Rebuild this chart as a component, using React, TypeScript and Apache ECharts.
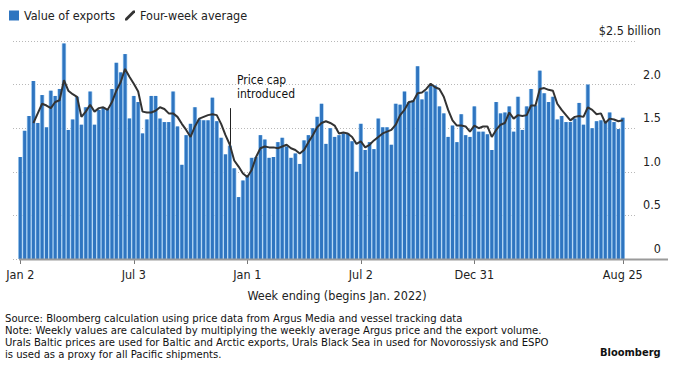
import React, { useEffect, useRef } from "react";
import * as echarts from "echarts";

const FONT = '"Liberation Sans Narrow","Arial Narrow","DejaVu Sans Condensed",sans-serif';

// Weekly value of exports ($ billion), week 0 = Jan 2, 2022
const barValues = [
  1.17, 1.47, 1.64, 2.04, 1.56, 1.88, 1.51, 1.93, 1.87, 1.95,
  2.47, 1.48, 1.60, 1.86, 1.54, 1.74, 1.92, 1.54, 1.71, 1.74,
  1.72, 1.95, 2.25, 2.14, 2.35, 1.61, 1.87, 1.80, 1.44, 1.60,
  1.87, 1.87, 1.61, 1.57, 1.57, 1.92, 1.52, 1.08, 1.42, 1.55,
  1.74, 1.60, 1.59, 1.59, 1.85, 1.58, 1.39, 1.20, 1.30, 1.04,
  0.71, 0.90, 0.96, 1.16, 1.17, 1.42, 1.37, 1.16, 1.17, 1.34,
  1.39, 1.29, 1.16, 1.21, 1.09, 1.36, 1.42, 1.50, 1.63, 1.78,
  1.32, 1.50, 1.40, 1.42, 1.44, 1.44, 1.35, 1.00, 1.55, 1.25,
  1.34, 1.26, 1.61, 1.51, 1.51, 1.31, 1.78, 1.77, 1.92, 1.80,
  1.82, 2.21, 1.83, 1.92, 2.00, 1.99, 1.75, 1.67, 1.40, 1.53,
  1.34, 1.66, 1.42, 1.40, 1.75, 1.46, 1.46, 1.43, 1.25, 1.80,
  1.67, 1.68, 1.75, 1.46, 1.86, 1.48, 1.75, 1.95, 1.76, 2.16,
  1.90, 1.80, 1.86, 1.60, 1.64, 1.57, 1.57, 1.61, 1.79, 1.54,
  2.00, 1.50, 1.58, 1.59, 1.58, 1.68, 1.57, 1.49, 1.62,
];

// Four-week average, starting at week 3
const avgStartWeek = 3;
const avgValues = [
  1.56, 1.67, 1.78, 1.76, 1.73, 1.80, 1.82, 2.05, 1.93, 1.89,
  1.86, 1.63, 1.69, 1.77, 1.69, 1.73, 1.74, 1.71, 1.80, 1.93,
  2.03, 2.18, 2.09, 2.01, 1.92, 1.69, 1.68, 1.68, 1.70, 1.74,
  1.72, 1.67, 1.67, 1.63, 1.55, 1.48, 1.40, 1.52, 1.61, 1.63,
  1.65, 1.66, 1.65, 1.55, 1.42, 1.31, 1.13, 1.06, 0.98, 0.94,
  1.02, 1.17, 1.27, 1.29, 1.28, 1.28, 1.27, 1.29, 1.31, 1.27,
  1.25, 1.21, 1.25, 1.34, 1.42, 1.51, 1.56, 1.58, 1.56, 1.53,
  1.44, 1.45, 1.44, 1.40, 1.32, 1.35, 1.28, 1.31, 1.36, 1.40,
  1.44, 1.46, 1.48, 1.54, 1.65, 1.71, 1.80, 1.81, 1.90, 1.91,
  1.95, 2.01, 1.97, 1.95, 1.86, 1.71, 1.59, 1.53, 1.53, 1.52,
  1.46, 1.53, 1.50, 1.52, 1.52, 1.40, 1.48, 1.54, 1.56, 1.68,
  1.61, 1.65, 1.64, 1.65, 1.76, 1.76, 1.95, 1.96, 1.94, 1.93,
  1.78, 1.71, 1.65, 1.59, 1.63, 1.64, 1.63, 1.74, 1.71, 1.66,
  1.67, 1.56, 1.61, 1.60, 1.58, 1.59,
];

const tickWeeks = [0, 26, 52, 78, 104, 138];
const tickLabels = ["Jan 2", "Jul 3", "Jan 1", "Jul 2", "Dec 31", "Aug 25"];

const priceCapWeek = 48;
const priceCapLineTop = 1.73;

const noteLines = [
  "Source: Bloomberg calculation using price data from Argus Media and vessel tracking data",
  "Note: Weekly values are calculated by multiplying the weekly average Argus price and the export volume.",
  "Urals Baltic prices are used for Baltic and Arctic exports, Urals Black Sea in used for Novorossiysk and ESPO",
  "is used as a proxy for all Pacific shipments.",
];

export default function App() {
  const ref = useRef<HTMLDivElement>(null);
  useEffect(() => {
    const chart = echarts.init(ref.current!, null, { renderer: "svg" });
    const barData = barValues.map((v, i) => [i, v]);
    const lineData = avgValues.map((v, i) => [i + avgStartWeek, v]);
    const xBase = {
      type: "value",
      min: -1.67,
      max: 140.8,
      splitLine: { show: false },
      axisLine: { show: false },
    };
    chart.setOption({
      animation: false,
      backgroundColor: "#ffffff",
      grid: { left: 13, right: 47, top: 41, bottom: 119 },
      legend: {
        left: 4,
        top: 4,
        itemWidth: 10,
        itemHeight: 10,
        itemGap: 10,
        textStyle: { fontFamily: FONT, fontSize: 12.5, color: "#222" },
        data: [
          { name: "Value of exports", icon: "rect" },
          { name: "Four-week average", icon: "path://M0,10 L2,10 L10,2 L10,0 L8,0 L0,8 Z" },
        ],
      },
      xAxis: [
        {
          ...xBase,
          axisTick: { show: true, customValues: tickWeeks, length: 5, lineStyle: { color: "#777" } },
          axisLabel: {
            show: true,
            customValues: tickWeeks,
            formatter: (v: number) => {
              const k = tickWeeks.indexOf(Math.round(v));
              return k >= 0 ? tickLabels[k] : "";
            },
            margin: 9,
            fontFamily: FONT,
            fontSize: 12.5,
            color: "#222",
          },
        },
        { ...xBase, show: false },
      ],
      yAxis: {
        type: "value",
        position: "right",
        min: 0,
        max: 2.5,
        interval: 0.5,
        axisLine: { show: false },
        axisTick: { show: false },
        splitLine: { lineStyle: { type: [1, 2], color: "#b8b8b8" } },
        axisLabel: {
          align: "right",
          margin: 26,
          verticalAlign: "bottom",
          padding: [0, 0, 4, 0],
          fontFamily: FONT,
          fontSize: 12.5,
          color: "#222",
          formatter: (v: number) => (v === 2.5 ? "$2.5 billion" : v === 0 ? "0" : v.toFixed(1)),
        },
      },
      series: [
        {
          name: "bg",
          type: "bar",
          xAxisIndex: 1,
          data: barData,
          barWidth: 4.4,
          itemStyle: { color: "#a3cdf1" },
          silent: true,
        },
        {
          name: "Value of exports",
          type: "bar",
          xAxisIndex: 0,
          data: barData,
          barWidth: 3,
          itemStyle: { color: "#2f75c0" },
          markLine: {
            silent: true,
            symbol: ["none", "none"],
            label: { show: false },
            lineStyle: { color: "#222", width: 1, type: "solid" },
            data: [
              [
                { coord: [priceCapWeek, barValues[priceCapWeek]] },
                { coord: [priceCapWeek, priceCapLineTop] },
              ],
            ],
          },
        },
        {
          name: "Four-week average",
          type: "line",
          xAxisIndex: 0,
          data: lineData,
          symbol: "none",
          lineStyle: { color: "#333", width: 2 },
          itemStyle: { color: "#333" },
          z: 5,
        },
      ],
      graphic: [
        {
          type: "line",
          shape: { x1: 19, y1: 259.5, x2: 668, y2: 259.5 },
          style: { stroke: "#9a9a9a", lineWidth: 2 },
          z: 10,
        },
        {
          type: "text",
          left: 237,
          top: 73,
          style: { text: "Price cap\nintroduced", fontFamily: FONT, fontSize: 12, lineHeight: 14, fill: "#111" },
        },
        {
          type: "text",
          x: 337,
          y: 295,
          style: {
            text: "Week ending (begins Jan. 2022)",
            fontFamily: FONT,
            fontSize: 12.5,
            fill: "#222",
            textAlign: "center",
            textVerticalAlign: "middle",
          },
        },
        {
          type: "text",
          left: 5,
          top: 312,
          style: { text: noteLines.join("\n"), fontFamily: FONT, fontSize: 11.2, lineHeight: 12, fill: "#111" },
        },
        {
          type: "text",
          left: 600,
          top: 347,
          style: { text: "Bloomberg", fontFamily: FONT, fontSize: 11, fontWeight: "bold", fill: "#111" },
        },
      ],
    });
    return () => chart.dispose();
  }, []);
  return (
    <div
      ref={ref}
      style={{ position: "fixed", left: 0, top: 0, width: 682, height: 378, background: "#fff" }}
    />
  );
}
